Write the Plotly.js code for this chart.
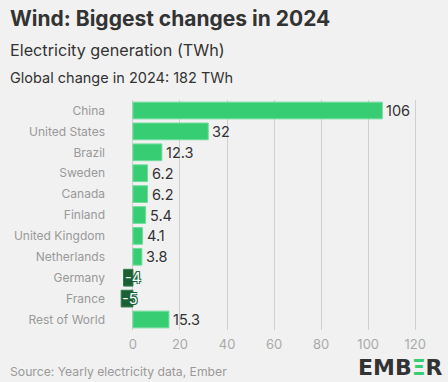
<!DOCTYPE html>
<html><head><meta charset="utf-8">
<script src="https://cdn.plot.ly/plotly-3.0.1.min.js"></script>
<style>body{margin:0;background:#f1f1f1}#c{width:448px;height:382px}</style>
</head><body><div id="c"></div>
<script>
const countries = ["China","United States","Brazil","Sweden","Canada","Finland","United Kingdom","Netherlands","Germany","France","Rest of World"];
const changes = [106, 32, 12.3, 6.2, 6.2, 5.4, 4.1, 3.8, -4, -5, 15.3];
const labels = ["106","32","12.3","6.2","6.2","5.4","4.1","3.8","-4","-5","15.3"];
const tickVals = [0,20,40,60,80,100,120];

const pos = '#37cd73', neg = '#1b6034';
const FONT = 'Inter, "Noto Sans", sans-serif';
const outline = '-1px -1px 0 #1b6034, 1px -1px 0 #1b6034, -1px 1px 0 #1b6034, 1px 1px 0 #1b6034';

const annots = countries.map((c,i)=>{
  const v = changes[i];
  return v >= 0 ? {
    x: v, y: c, xref:'x', yref:'y', text: labels[i], showarrow:false,
    xanchor:'left', xshift:2, font:{family:FONT,size:14.5,color:'#333'}
  } : {
    x: v, y: c, xref:'x', yref:'y', text: labels[i], showarrow:false,
    xanchor:'left', xshift:-1, font:{family:FONT,size:14.5,color:'#ffffff', shadow:outline}
  };
});

const W = 307, H = 230, L = 120, T = 100;
const px = x => (x - L)/W;
const py = y => 1 - (y - T)/H;

const layout = {
  width:448, height:382,
  paper_bgcolor:'#f1f1f1', plot_bgcolor:'#f1f1f1',
  margin:{l:L,r:448-L-W,t:T,b:382-T-H},
  showlegend:false,
  bargap:0.2,
  font:{family:FONT},
  xaxis:{range:[-5.5,125], tickvals:tickVals, showgrid:true, gridcolor:'#d0d0d0', gridwidth:1,
    zeroline:true, zerolinecolor:'#cfcfcf', zerolinewidth:1, tickfont:{size:13,color:'#aaa',family:FONT},
    ticks:'outside', ticklen:2, tickcolor:'rgba(0,0,0,0)', fixedrange:true},
  yaxis:{autorange:'reversed', tickfont:{size:12,color:'#999',family:FONT}, ticks:'', ticklen:0, ticklabelstandoff:14, showgrid:false},
  annotations: annots.concat([
    {xref:'paper',yref:'paper',x:px(8),y:py(18),xanchor:'left',yanchor:'middle',showarrow:false,
      text:'<b>Wind: Biggest changes in 2024</b>',font:{family:FONT,size:21,color:'#333'}},
    {xref:'paper',yref:'paper',x:px(8),y:py(50),xanchor:'left',yanchor:'middle',showarrow:false,
      text:'Electricity generation (TWh)',font:{family:FONT,size:16.2,color:'#333'}},
    {xref:'paper',yref:'paper',x:px(8),y:py(78),xanchor:'left',yanchor:'middle',showarrow:false,
      text:'Global change in 2024: 182 TWh',font:{family:FONT,size:14.5,color:'#333'}},
    {xref:'paper',yref:'paper',x:px(8),y:py(371),xanchor:'left',yanchor:'middle',showarrow:false,
      text:'Source: Yearly electricity data, Ember',font:{family:FONT,size:12.2,color:'#999'}},
    {xref:'paper',yref:'paper',x:px(445),y:py(367),xanchor:'right',yanchor:'middle',showarrow:false,
      text:'<b>EMB<span style="color:#37cd73">Ξ</span>R</b>',font:{family:'"DejaVu Sans", sans-serif',size:22,color:'#333'}}
  ])
};
const trace = {
  type:'bar', orientation:'h', y:countries, x:changes,
  marker:{color:changes.map(v=>v>=0?pos:neg), line:{color:changes.map(v=>v>=0?'#6fdc9c':'#2f7a4a'),width:1}},
  hoverinfo:'none'
};
Plotly.newPlot('c',[trace],layout,{displayModeBar:false,staticPlot:true});
</script></body></html>
